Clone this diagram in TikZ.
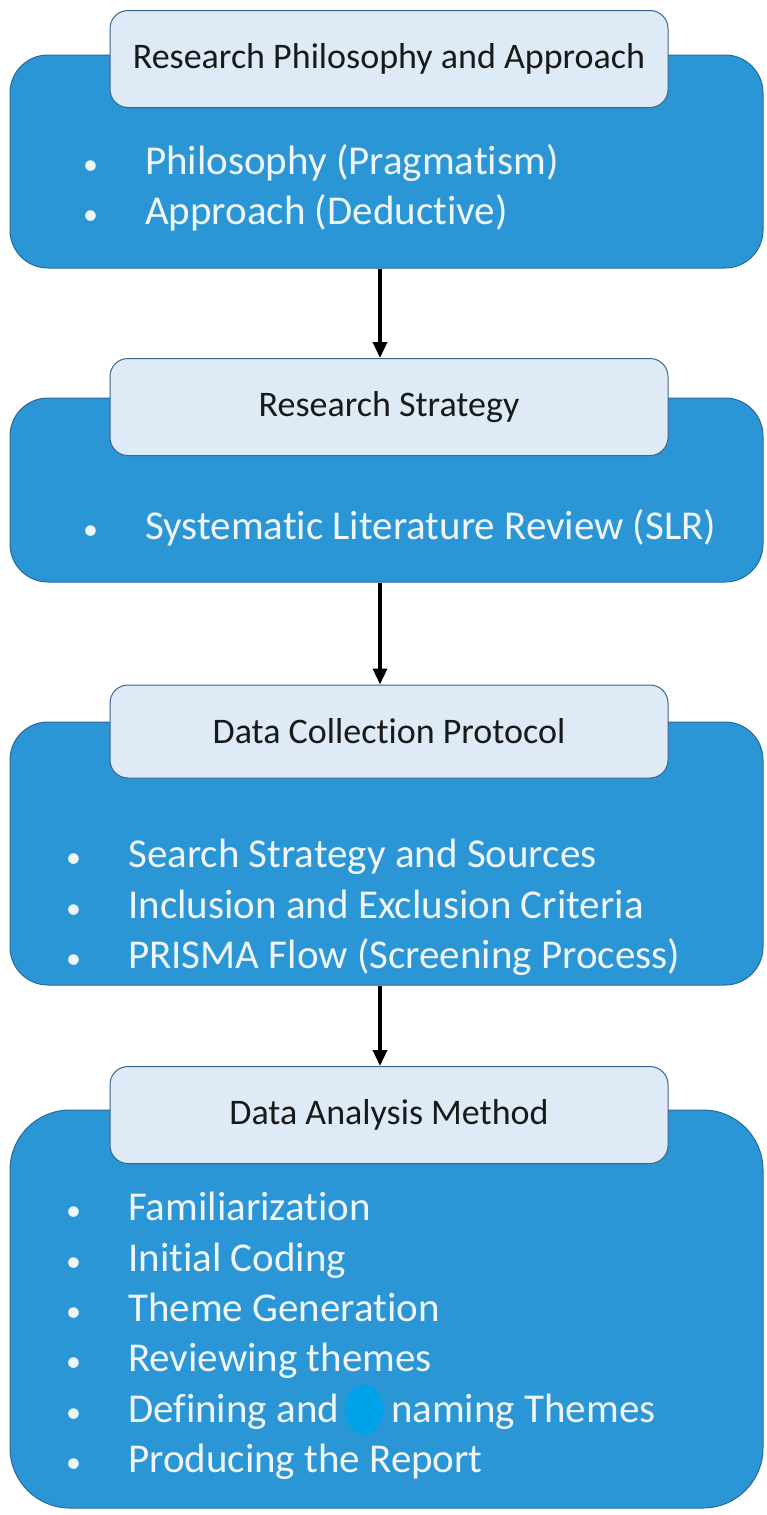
\documentclass[tikz,border=0pt]{standalone}
\usepackage{fontspec}
\setmainfont{Carlito}[Ligatures=NoCommon]
\usetikzlibrary{arrows.meta,shapes.geometric}
\definecolor{mainblue}{RGB}{43,150,214}
\definecolor{mainedge}{RGB}{40,105,160}
\definecolor{headfill}{RGB}{222,235,247}
\definecolor{headedge}{RGB}{58,100,145}
\definecolor{dotblue}{RGB}{0,162,232}
\definecolor{bodytext}{RGB}{240,245,250}
\tikzset{
  mainbox/.style={draw=mainedge, line width=1pt, fill=mainblue, rounded corners=38pt, inner sep=0pt},
  headbox/.style={draw=headedge, line width=1pt, fill=headfill, rounded corners=18pt, inner sep=0pt,
     minimum width=558pt, minimum height=97pt, font=\fontsize{36}{43}\selectfont, text=black!90},
  bodylist/.style={anchor=north west, inner sep=0pt, align=left, text=bodytext,
     font=\fontsize{41}{50.4}\selectfont},
  arr/.style={-{Triangle[length=16pt,width=14pt]}, line width=3.4pt, black}
}
\newcommand{\bl}[1]{\makebox[#1][l]{\hspace{3pt}{\fontsize{30}{30}\selectfont•}}}
\begin{document}
\begin{tikzpicture}[x=1pt,y=-1pt]
\useasboundingbox[fill=white] (0,0) rectangle (766,1515);
% box 1
\node[mainbox, minimum width=753pt, minimum height=213pt] (m1) at (386.5,161.5) {};
\node[headbox] (h1) at (389,59) {Research Philosophy and Approach};
\node[bodylist] (t1) at (80,144) {\bl{65pt}Philosophy (Pragmatism)\\\bl{65pt}Approach (Deductive)};
% box 2
\node[mainbox, minimum width=753pt, minimum height=184pt] (m2) at (386.5,490) {};
\node[headbox] (h2) at (389,407) {Research Strategy};
\node[bodylist] (t2) at (80,509) {\bl{65pt}Systematic Literature Review (SLR)};
% box 3
\node[mainbox, minimum width=753pt, minimum height=263pt] (m3) at (386.5,853.5) {};
\node[headbox, minimum height=93pt] (h3) at (389,731.5) {Data Collection Protocol};
\node[bodylist] (t3) at (63,839) {\bl{65pt}Search Strategy and Sources\\\bl{65pt}Inclusion and Exclusion Criteria\\\bl{65pt}PRISMA Flow (Screening Process)};
% box 4
\node[mainbox, rounded corners=60pt, minimum width=753pt, minimum height=398pt] (m4) at (386.5,1309) {};
\node[headbox] (h4) at (389,1115) {Data Analysis Method};
\node[bodylist] (t4) at (63,1192) {\bl{65pt}Familiarization\\\bl{65pt}Initial Coding\\\bl{65pt}Theme Generation\\\bl{65pt}Reviewing themes\\\bl{65pt}Defining and\hspace{52pt}naming Themes\\\bl{65pt}Producing the Report};
\node[fill=dotblue, ellipse, minimum width=38pt, minimum height=50pt, inner sep=0pt] (dot) at (364,1410) {};
% arrows
\draw[arr] ([xshift=-9pt]h1.south |- m1.south) -- ([xshift=-9pt]h2.north);
\draw[arr] ([xshift=-9pt]h2.south |- m2.south) -- ([xshift=-9pt]h3.north);
\draw[arr] ([xshift=-9pt]h3.south |- m3.south) -- ([xshift=-9pt]h4.north);
\end{tikzpicture}
\end{document}
